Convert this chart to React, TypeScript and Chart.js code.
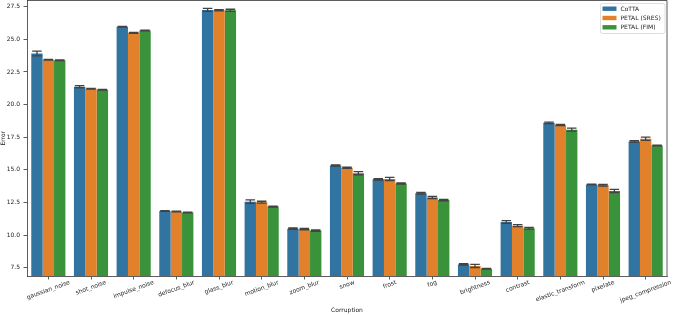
import { useEffect, useRef } from 'react';
import { Chart, registerables } from 'chart.js';

Chart.register(...registerables);

const categories = [
  'gaussian_noise', 'shot_noise', 'impulse_noise', 'defocus_blur', 'glass_blur',
  'motion_blur', 'zoom_blur', 'snow', 'frost', 'fog', 'brightness', 'contrast',
  'elastic_transform', 'pixelate', 'jpeg_compression',
];
const seriesNames = ['CoTTA', 'PETAL (SRES)', 'PETAL (FIM)'];
const cottaValues = [23.92, 21.37, 25.97, 11.84, 27.26, 12.56, 10.49, 15.33, 14.27, 13.2, 7.75, 11.0, 18.6, 13.87, 17.18];
const sresValues = [23.44, 21.22, 25.5, 11.8, 27.23, 12.52, 10.45, 15.16, 14.3, 12.88, 7.63, 10.72, 18.44, 13.82, 17.38];
const fimValues = [23.4, 21.14, 25.68, 11.73, 27.23, 12.18, 10.34, 14.74, 13.95, 12.68, 7.42, 10.52, 18.08, 13.38, 16.87];
const cottaErr = [0.18, 0.08, 0.03, 0.03, 0.12, 0.14, 0.05, 0.05, 0.05, 0.06, 0.05, 0.1, 0.06, 0.03, 0.06];
const sresErr = [0.03, 0.03, 0.03, 0.03, 0.04, 0.07, 0.05, 0.05, 0.12, 0.08, 0.12, 0.08, 0.05, 0.06, 0.12];
const fimErr = [0.02, 0.03, 0.03, 0.03, 0.08, 0.04, 0.05, 0.12, 0.05, 0.05, 0.03, 0.06, 0.12, 0.12, 0.03];
const yMin = 6.86;
const yMax = 27.98;
const yStep = 2.5;

const colors = ['#3274a1', '#e1812c', '#3a923a'];
const FONT = '"DejaVu Sans", sans-serif';
const errors = [cottaErr, sresErr, fimErr];

const overlayPlugin = {
  id: 'overlay',
  afterDatasetsDraw(chart: any) {
    const ctx = chart.ctx;
    const yScale = chart.scales.y;
    ctx.save();
    ctx.strokeStyle = '#424242';
    ctx.lineWidth = 1.3;
    chart.data.datasets.forEach((ds: any, i: number) => {
      const meta = chart.getDatasetMeta(i);
      meta.data.forEach((el: any, j: number) => {
        const v = ds.data[j];
        const e = errors[i][j];
        const x = el.x;
        const half = el.width * 0.42;
        const yT = yScale.getPixelForValue(v + e);
        const yB = yScale.getPixelForValue(v - e);
        ctx.beginPath();
        ctx.moveTo(x, yT);
        ctx.lineTo(x, yB);
        ctx.moveTo(x - half, yT);
        ctx.lineTo(x + half, yT);
        ctx.moveTo(x - half, yB);
        ctx.lineTo(x + half, yB);
        ctx.stroke();
      });
    });
    ctx.restore();
  },
  afterDraw(chart: any) {
    const ctx = chart.ctx;
    const area = chart.chartArea;
    const xScale = chart.scales.x;
    ctx.save();
    // top/right spines
    ctx.strokeStyle = '#333';
    ctx.lineWidth = 0.8;
    ctx.beginPath();
    ctx.moveTo(area.left, area.top);
    ctx.lineTo(area.right, area.top);
    ctx.lineTo(area.right, area.bottom);
    ctx.stroke();

    // rotated x labels
    ctx.font = `6px ${FONT}`;
    ctx.fillStyle = '#222';
    ctx.textAlign = 'center';
    ctx.textBaseline = 'middle';
    const ang = (20 * Math.PI) / 180;
    categories.forEach((lab, i) => {
      const x = xScale.getPixelForValue(i);
      const w = ctx.measureText(lab).width;
      const h = w * Math.sin(ang) + 6 * Math.cos(ang);
      const cy = area.bottom + 3.5 + h / 2;
      ctx.save();
      ctx.translate(x, cy);
      ctx.rotate(-ang);
      ctx.fillText(lab, 0, 0);
      ctx.restore();
    });

    // legend
    const bx = 600.5, by = 3.5, bw = 64.5, bh = 30;
    ctx.beginPath();
    (ctx as any).roundRect(bx, by, bw, bh, 2);
    ctx.fillStyle = 'rgba(255,255,255,0.85)';
    ctx.fill();
    ctx.strokeStyle = '#d6d6d6';
    ctx.lineWidth = 0.8;
    ctx.stroke();
    ctx.textAlign = 'left';
    ctx.textBaseline = 'middle';
    const rows = [8.7, 18, 27.3];
    seriesNames.forEach((name, i) => {
      ctx.fillStyle = colors[i];
      ctx.fillRect(602.5, rows[i] - 2.2, 14, 4.4);
      ctx.fillStyle = '#222';
      ctx.fillText(name, 620.5, rows[i] + 0.3);
    });
    ctx.restore();
  },
};

export default function App() {
  const ref = useRef<HTMLCanvasElement>(null);
  useEffect(() => {
    if (!ref.current) return;
    const datasets = [cottaValues, sresValues, fimValues].map((d, i) => ({
      label: seriesNames[i],
      data: d,
      backgroundColor: colors[i],
      borderWidth: 0,
      categoryPercentage: 0.8,
      barPercentage: 1.0,
    }));
    const chart = new Chart(ref.current, {
      type: 'bar',
      data: { labels: categories, datasets },
      plugins: [overlayPlugin],
      options: {
        responsive: false,
        animation: false,
        devicePixelRatio: 1,
        layout: { padding: { top: 0.5, right: 8, left: 0, bottom: 0 } },
        plugins: {
          legend: { display: false },
          tooltip: { enabled: false },
        },
        scales: {
          x: {
            type: 'category',
            offset: true,
            grid: {
              offset: false,
              drawOnChartArea: false,
              drawTicks: true,
              tickLength: 3.5,
              color: '#333',
              lineWidth: 0.8,
            },
            border: { display: true, color: '#333', width: 0.8 },
            ticks: { autoSkip: false, maxRotation: 0, minRotation: 0, callback: () => '', font: { size: 6, family: FONT } },
            title: {
              display: true,
              text: 'Corruption',
              color: '#222',
              font: { size: 6, family: FONT },
              padding: { top: 0, bottom: 1 },
            },
            afterFit: (s: any) => {
              s.height = 39;
              s.paddingLeft = 0;
              s.paddingRight = 0;
            },
          },
          y: {
            type: 'linear',
            min: yMin,
            max: yMax,
            grid: {
              drawOnChartArea: false,
              drawTicks: true,
              tickLength: 3.5,
              color: '#333',
              lineWidth: 0.8,
            },
            border: { display: true, color: '#333', width: 0.8 },
            ticks: {
              stepSize: yStep,
              includeBounds: false,
              padding: 3.5,
              color: '#222',
              font: { size: 6, family: FONT },
              callback: (v: any) => Number(v).toFixed(1),
            },
            title: {
              display: true,
              text: 'Error',
              color: '#222',
              font: { size: 6, family: FONT },
              padding: { top: 0, bottom: 0 },
            },
            afterFit: (s: any) => {
              s.width = 27;
              s.paddingTop = 0;
              s.paddingBottom = 0;
            },
          },
        },
      },
    } as any);
    return () => chart.destroy();
  }, []);
  return (
    <div style={{ position: 'absolute', left: 0, top: 0, width: 675, height: 315, background: '#fff' }}>
      <canvas ref={ref} width={675} height={315} style={{ display: 'block', width: 675, height: 315 }} />
    </div>
  );
}
